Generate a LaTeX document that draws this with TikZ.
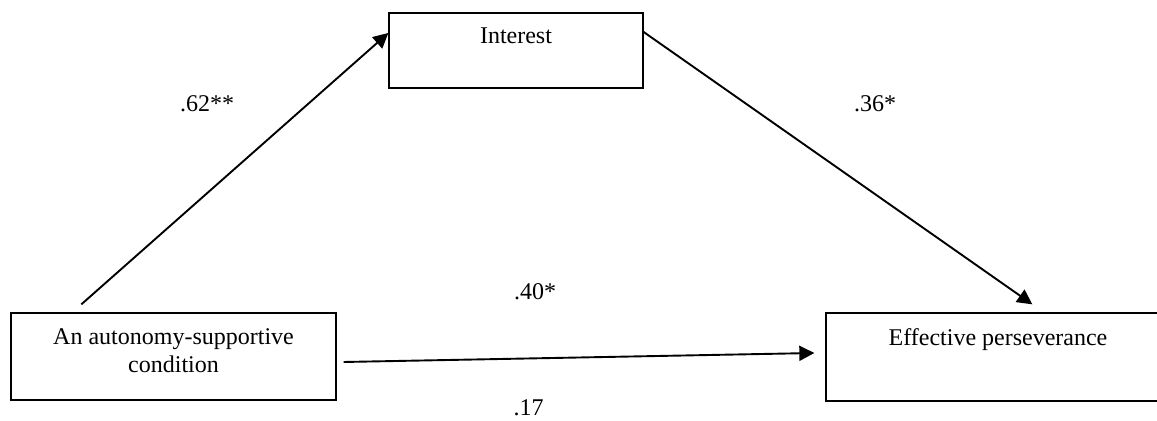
\documentclass[tikz,border=0pt]{standalone}
\usepackage{fontspec}
\setmainfont{Liberation Serif}
\usepackage{tikz}
\usetikzlibrary{arrows.meta, positioning}

\begin{document}
\begin{tikzpicture}[
    x=0.5pt, y=-0.5pt,
    box/.style  = {draw, line width=0.65pt, inner sep=0pt},
    txt/.style  = {align=center, inner sep=0pt, font=\fontsize{12pt}{14pt}\selectfont},
    coef/.style = {anchor=base, inner sep=0pt, font=\fontsize{12pt}{14pt}\selectfont},
    arr/.style  = {-{Triangle[length=7.5pt, width=7.5pt]}, line width=0.95pt},
  ]
    \useasboundingbox (0,0) rectangle (1157,421);

    %% ── Boxes ───────────────────────────────────────────────────────────────
    \node[box, minimum width=162.5pt, minimum height=43.5pt] (cond)     at (173.5, 356.5) {};
    \node[box, minimum width=127pt,   minimum height=37.5pt] (interest) at (516,   50.5)  {};
    \node[box, minimum width=172pt,   minimum height=44pt]   (effect)   at (998,   357)   {};

    %% box texts sit near the top edge
    \node[txt, below=8pt of cond.north]       (condtxt)  {An autonomy-supportive\\condition};
    \node[txt, below=7.5pt of interest.north] (intertxt) {Interest};
    \node[txt, below=8pt of effect.north]     (efftxt)   {Effective perseverance};

    %% ── Paths ───────────────────────────────────────────────────────────────
    \draw[arr] ([xshift=35.5pt, yshift=4pt]cond.north west) -- ([yshift=8.75pt]interest.west);
    \draw[arr] ([yshift=9.25pt]interest.east) -- ([xshift=103.5pt, yshift=4pt]effect.north west);
    \draw[arr] ([xshift=3.5pt, yshift=-2.75pt]cond.east) -- ([xshift=-5.5pt, yshift=2pt]effect.west);

    %% ── Coefficients ────────────────────────────────────────────────────────
    \node[coef] (ca)  at (207,   112) {.62**};
    \node[coef] (cb)  at (875,   112) {.36*};
    \node[coef] (cc)  at (535,   300) {.40*};
    \node[coef] (ccp) at (528.5, 416) {.17};

\end{tikzpicture}
\end{document}
